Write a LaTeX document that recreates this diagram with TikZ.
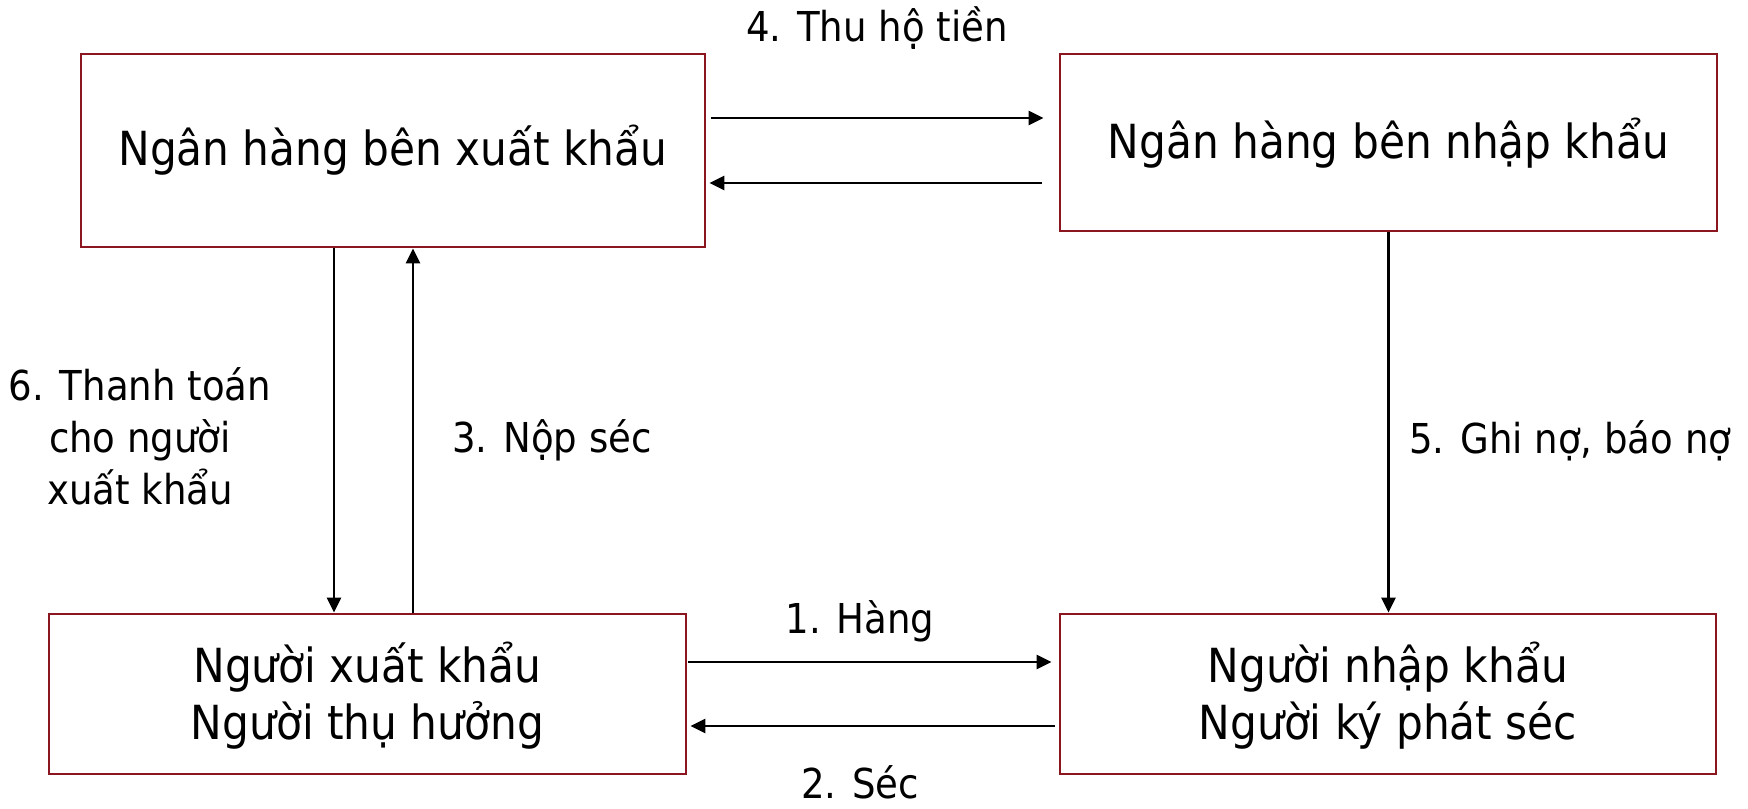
\documentclass[tikz,border=0pt]{standalone}
\usepackage{fontspec}
\setmainfont{DejaVu Sans Condensed}
\usetikzlibrary{arrows.meta,calc}
\definecolor{boxred}{RGB}{140,22,32}
\begin{document}
\begin{tikzpicture}[x=0.5pt,y=-0.5pt,
  box/.style={draw=boxred,line width=1.4pt,rectangle,inner sep=0pt,fill=none,
    font=\fontsize{23.5}{28.5}\selectfont},
  arr/.style={line width=1.3pt,-{Triangle[length=7.5pt,width=7pt]}},
  lbl/.style={font=\fontsize{20.6}{26}\selectfont,inner sep=0pt}]
\useasboundingbox (0,0) rectangle (1748,808);
% boxes
\node[box,minimum width=312pt,minimum height=96.5pt,text height=18pt,text depth=3.5pt]
  (B1) at (393,150.5) {Ngân hàng bên xuất khẩu};
\node[box,minimum width=328.5pt,minimum height=88.5pt,text height=18pt,text depth=2.5pt]
  (B2) at (1388.5,142.5) {Ngân hàng bên nhập khẩu};
\node[box,minimum width=318.5pt,minimum height=80pt,text height=10pt,text depth=22pt]
  (B3) at (367.5,694) {\begin{tabular}[t]{@{}c@{}}Người xuất khẩu\\Người thụ hưởng\end{tabular}};
\node[box,minimum width=328pt,minimum height=80pt,text height=10pt,text depth=22pt]
  (B4) at (1388,694) {\begin{tabular}[t]{@{}c@{}}Người nhập khẩu\\Người ký phát séc\end{tabular}};
% connector coordinates
\coordinate (a4) at ([yshift=16.25pt]B1.east);
\coordinate (a4r) at ([yshift=-16.25pt]B1.east);
\coordinate (a6) at ([xshift=-29.5pt]B1.south);
\coordinate (a3) at ([xshift=10pt]B1.south);
\coordinate (a1) at ([yshift=16pt]B3.east);
\coordinate (a2) at ([yshift=-16pt]B3.east);
% connectors
\draw[arr,shorten <=2.5pt,shorten >=7.5pt] (a4) -- (a4 -| B2.west);
\draw[arr,shorten <=8.5pt,shorten >=1.5pt] (a4r -| B2.west) -- (a4r);
\draw[arr] (a6) -- (a6 |- B3.north);
\draw[arr] (a3 |- B3.north) -- (a3);
\draw[arr] (B2.south) -- (B2.south |- B4.north);
\draw[arr,shorten <=0.5pt,shorten >=3.5pt] (a1) -- (a1 -| B4.west);
\draw[arr,shorten <=2pt,shorten >=1.5pt] (a2 -| B4.west) -- (a2);
% labels
\node[lbl,anchor=base] (l4) at (877,42) {4. Thu hộ tiền};
\node[lbl,anchor=base] (l6) at (140,400) {\begin{tabular}[t]{@{}c@{}}6. Thanh toán\\cho người\\xuất khẩu\end{tabular}};
\node[lbl,anchor=base west] (l3) at (452,452) {3. Nộp séc};
\node[lbl,anchor=base west] (l5) at (1409,453) {5. Ghi nợ, báo nợ};
\node[lbl,anchor=base] (l1) at (860,633) {1. Hàng};
\node[lbl,anchor=base] (l2) at (860,798) {2. Séc};
\end{tikzpicture}
\end{document}
